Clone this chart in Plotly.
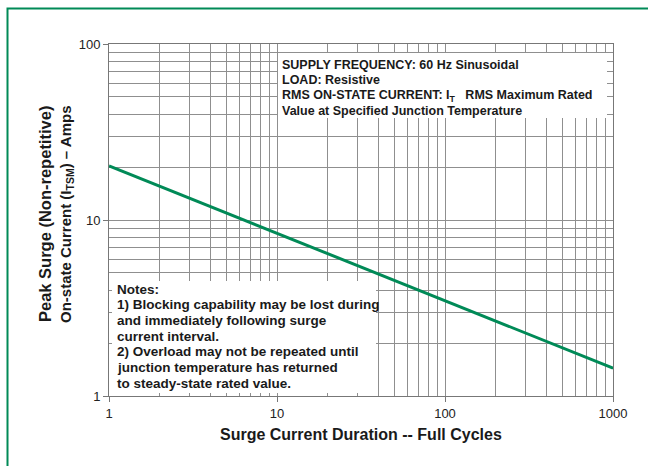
import plotly.graph_objects as go

# ---- data ----
cycles = [1, 10, 100, 1000]
amps = [20.3, 8.4, 3.5, 1.44]

x_major = [1, 10, 100, 1000]
x_major_labels = ["1", "10", "100", "1000"]
y_major = [1, 10, 100]
y_major_labels = ["1", "10", "100"]
x_minor = [m * d for d in (1, 10, 100) for m in range(2, 10)]
y_minor = [m * d for d in (1, 10) for m in range(2, 10)]

box_lines = ["SUPPLY FREQUENCY: 60 Hz Sinusoidal",
             "LOAD: Resistive",
             "RMS ON-STATE CURRENT: I<sub>T</sub>&nbsp;&nbsp;&nbsp;RMS Maximum Rated",
             "Value at Specified Junction Temperature"]
notes_lines = ["Notes:",
               "1) Blocking capability may be lost during",
               "and immediately following surge",
               "current interval.",
               "2) Overload may not be repeated until",
               "junction temperature has returned",
               "to steady-state rated value."]

W, H = 648, 466
L, R, T, B = 109, 35, 44, 70
pw, ph = W - L - R, H - T - B

def px(x):
    return (x - L) / pw

def py(y):
    return 1 - (y - T) / ph

FONT = "Liberation Sans, Arial, sans-serif"
GRID = "#8f8f8f"
GREEN = "#008a57"
TXT = "#1a1a1a"

fig = go.Figure()
fig.add_trace(go.Scatter(x=cycles, y=amps, mode="lines",
                         line=dict(color=GREEN, width=3), showlegend=False,
                         hoverinfo="skip"))

axis_common = dict(type="log", showline=True, linecolor="#777777", linewidth=1,
                   mirror=True, ticks="outside", ticklen=5, tickcolor="#777777",
                   showgrid=True, gridcolor=GRID, gridwidth=1, zeroline=False,
                   tickfont=dict(family=FONT, size=13, color="#222222"))

fig.update_xaxes(**axis_common, range=[0, 3], tickmode="array",
                 tickvals=x_major, ticktext=x_major_labels,
                 minor=dict(tickmode="array", tickvals=x_minor, showgrid=True,
                            gridcolor=GRID, gridwidth=1, ticks=""))
fig.update_yaxes(**axis_common, range=[0, 2], tickmode="array",
                 tickvals=y_major, ticktext=y_major_labels,
                 minor=dict(tickmode="array", tickvals=y_minor, showgrid=True,
                            gridcolor=GRID, gridwidth=1, ticks=""))

shapes = [
    # info box (top right)
    dict(type="rect", xref="paper", yref="paper", x0=px(278), x1=px(607),
         y0=py(118), y1=py(53), fillcolor="white", line=dict(width=0), layer="above"),
    # notes box (bottom left)
    dict(type="rect", xref="paper", yref="paper", x0=px(112), x1=px(376),
         y0=py(393), y1=py(281), fillcolor="white", line=dict(width=0), layer="above"),
    # green frame
    dict(type="path", xref="paper", yref="paper",
         path=f"M {px(7.5)} {py(480)} L {px(7.5)} {py(8.5)} L {px(660)} {py(8.5)}",
         line=dict(color=GREEN, width=2), layer="above"),
]

annotations = []
for i, t in enumerate(box_lines):
    annotations.append(dict(xref="paper", yref="paper", x=px(280), y=py(65 + 15.4 * i),
                            xanchor="left", yanchor="middle", text=t, showarrow=False,
                            font=dict(family=FONT, size=12.5, color=TXT, weight="bold")))
for i, t in enumerate(notes_lines):
    annotations.append(dict(xref="paper", yref="paper", x=px(115), y=py(289 + 15.7 * i),
                            xanchor="left", yanchor="middle", text=t, showarrow=False,
                            font=dict(family=FONT, size=13.5, color=TXT, weight="bold")))
annotations += [
    dict(xref="paper", yref="paper", x=px(361), y=py(434), xanchor="center", yanchor="middle",
         text="Surge Current Duration -- Full Cycles", showarrow=False,
         font=dict(family=FONT, size=16, color=TXT, weight="bold")),
    dict(xref="paper", yref="paper", x=px(45), y=py(214), xanchor="center", yanchor="middle",
         text="Peak Surge (Non-repetitive)", showarrow=False, textangle=-90,
         font=dict(family=FONT, size=16.5, color=TXT, weight="bold")),
    dict(xref="paper", yref="paper", x=px(66), y=py(215), xanchor="center", yanchor="middle",
         text="On-state Current (I<sub>TSM</sub>) – Amps", showarrow=False, textangle=-90,
         font=dict(family=FONT, size=15, color=TXT, weight="bold")),
]

fig.update_layout(width=W, height=H, margin=dict(l=L, r=R, t=T, b=B),
                  paper_bgcolor="white", plot_bgcolor="white",
                  shapes=shapes, annotations=annotations, showlegend=False)

fig.write_html("out.html", config={"displayModeBar": False},
               post_script="document.body.style.margin='0px';")
